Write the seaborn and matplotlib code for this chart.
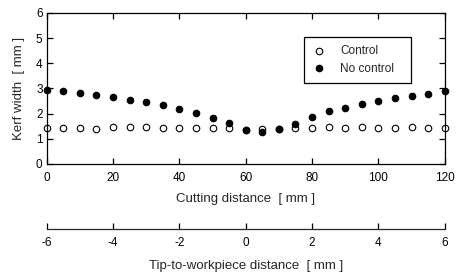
import numpy as np
import pandas as pd
import matplotlib
matplotlib.use('Agg')
import matplotlib.pyplot as plt
import seaborn as sns

# Values
cutting_distance = np.arange(0, 125, 5)
kerf_control = [1.44, 1.43, 1.41, 1.40, 1.46, 1.47, 1.46, 1.42, 1.43, 1.42, 1.42, 1.42, 1.36,
                1.39, 1.40, 1.44, 1.44, 1.47, 1.43, 1.45, 1.41, 1.44, 1.47, 1.43, 1.42]
kerf_no_control = [2.93, 2.88, 2.83, 2.75, 2.66, 2.54, 2.45, 2.34, 2.17, 2.01, 1.81, 1.64, 1.35,
                   1.28, 1.39, 1.59, 1.85, 2.10, 2.21, 2.39, 2.51, 2.63, 2.71, 2.78, 2.91]
series_names = ['Control', 'No control']
tip_ticks = [-6, -4, -2, 0, 2, 4, 6]

df = pd.DataFrame({
    'Cutting distance': np.concatenate([cutting_distance, cutting_distance]),
    'Kerf width': kerf_control + kerf_no_control,
    'Series': [series_names[0]] * len(cutting_distance) + [series_names[1]] * len(cutting_distance),
})

sns.set_style('ticks')
plt.rcParams['font.family'] = ['Liberation Sans', 'DejaVu Sans']
plt.rcParams['font.size'] = 8.5
plt.rcParams['axes.unicode_minus'] = False

fig = plt.figure(figsize=(4.58, 2.76), dpi=100)
ax = fig.add_axes([0.102, 0.406, 0.869, 0.547])

sub = df[df['Series'] == 'Control']
sns.scatterplot(data=sub, x='Cutting distance', y='Kerf width', ax=ax, marker='o',
                s=22, facecolor='white', edgecolor='black', linewidth=0.8, label='Control')
sub = df[df['Series'] == 'No control']
sns.scatterplot(data=sub, x='Cutting distance', y='Kerf width', ax=ax, marker='o',
                s=22, color='black', edgecolor='black', linewidth=0.8, label='No control')

ax.set_xlim(0, 120)
ax.set_ylim(0, 6)
ax.set_xticks(range(0, 121, 20))
ax.set_yticks(range(0, 7))
for s in ax.spines.values():
    s.set_visible(True)
    s.set_linewidth(0.9)
    s.set_color('black')
ax.tick_params(direction='in', length=4, width=0.9, top=True, right=True, colors='black',
               labelsize=8.5)
ax.tick_params(axis='x', pad=6)
ax.tick_params(axis='y', pad=3)
ax.set_xlabel('Cutting distance  [ mm ]', fontsize=9.5, labelpad=6)
ax.set_ylabel('Kerf width  [ mm ]', fontsize=9.5, labelpad=8)
for c in ax.collections:
    c.set_clip_on(False)

leg = ax.legend(loc='upper left', bbox_to_anchor=(0.646, 0.551, 0.269, 0.29), mode='expand',
                frameon=True, fancybox=False, edgecolor='black', framealpha=1, fontsize=8.5,
                handletextpad=1.2, borderpad=0.7, labelspacing=0.45, handlelength=1.2,
                borderaxespad=0)
leg.get_frame().set_linewidth(0.9)

# Second scale: tip-to-workpiece distance
sec = ax.secondary_xaxis(-0.43, functions=(lambda x: x / 10 - 6, lambda t: (t + 6) * 10))
sec.set_xticks(tip_ticks)
sec.tick_params(direction='in', length=4, width=0.9, colors='black', labelsize=8.5, pad=6)
sec.spines['bottom'].set_linewidth(0.9)
sec.set_xlabel('Tip-to-workpiece distance  [ mm ]', fontsize=9.5, labelpad=8)

fig.savefig('out.png', dpi=100)
plt.close(fig)
